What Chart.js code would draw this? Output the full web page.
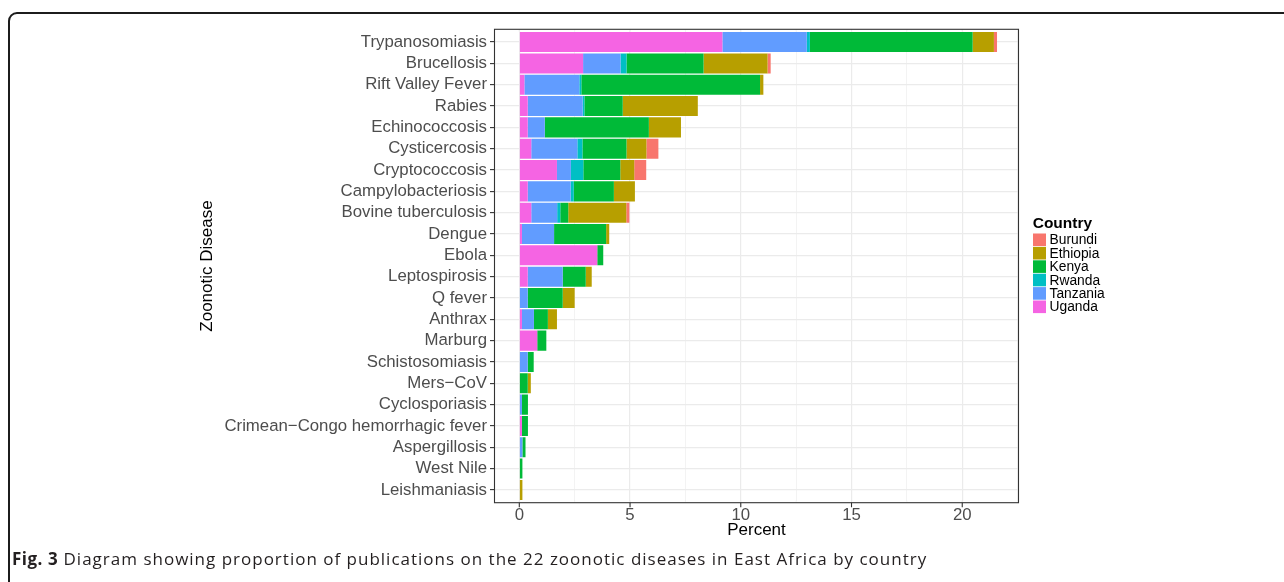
<!DOCTYPE html>
<html>
<head>
<meta charset="utf-8">
<script src="https://cdn.jsdelivr.net/npm/chart.js@4.4.0/dist/chart.umd.min.js"></script>
<style>
  html, body { margin: 0; padding: 0; background: #fff; }
  #wrap { position: relative; width: 1284px; height: 582px; overflow: hidden; }
  #frame {
    position: absolute; left: 8px; top: 12px; width: 1300px; height: 620px;
    border: 2px solid #1c1c1c; border-radius: 9px; box-sizing: border-box;
  }
  #chart { position: absolute; left: 0; top: 0; }
  #caption {
    position: absolute; left: 12px; top: 547px; white-space: nowrap;
    font-family: "Open Sans", sans-serif; font-size: 17px; letter-spacing: 1px; color: #231f20;
  }
  #caption b { font-weight: 700; letter-spacing: 0.5px; }
</style>
</head>
<body>
<div id="wrap">
  <div id="frame"></div>
  <canvas id="chart" width="1284" height="582"></canvas>
  <div id="caption"><b>Fig. 3</b> Diagram showing proportion of publications on the 22 zoonotic diseases in East Africa by country</div>
</div>
<script>
/* ---- data (percent of publications), top to bottom ---- */
const diseases = [
  'Trypanosomiasis', 'Brucellosis', 'Rift Valley Fever', 'Rabies', 'Echinococcosis',
  'Cysticercosis', 'Cryptococcosis', 'Campylobacteriosis', 'Bovine tuberculosis',
  'Dengue', 'Ebola', 'Leptospirosis', 'Q fever', 'Anthrax', 'Marburg',
  'Schistosomiasis', 'Mers\u2212CoV', 'Cyclosporiasis',
  'Crimean\u2212Congo hemorrhagic fever', 'Aspergillosis', 'West Nile', 'Leishmaniasis'
];
const uganda   = [9.17, 2.88, 0.23, 0.38, 0.38, 0.54, 1.70, 0.38, 0.54, 0.12, 3.52, 0.38, 0, 0.12, 0.81, 0, 0, 0, 0.12, 0, 0, 0];
const tanzania = [3.81, 1.69, 2.48, 2.48, 0.77, 2.08, 0.63, 1.94, 1.17, 1.45, 0, 1.58, 0.38, 0.54, 0, 0.38, 0, 0.12, 0, 0.14, 0, 0];
const rwanda   = [0.14, 0.27, 0.09, 0.08, 0, 0.23, 0.56, 0.14, 0.14, 0, 0, 0, 0, 0, 0, 0, 0, 0, 0, 0, 0, 0];
const kenya    = [7.35, 3.48, 8.07, 1.73, 4.70, 1.99, 1.67, 1.81, 0.36, 2.35, 0.27, 1.04, 1.58, 0.63, 0.41, 0.27, 0.38, 0.27, 0.27, 0.14, 0.14, 0];
const ethiopia = [0.96, 2.89, 0.15, 3.39, 1.45, 0.90, 0.63, 0.95, 2.62, 0.14, 0, 0.27, 0.54, 0.41, 0, 0, 0.14, 0, 0, 0, 0, 0.14];
const burundi  = [0.14, 0.14, 0, 0, 0, 0.54, 0.54, 0, 0.14, 0, 0, 0, 0, 0, 0, 0, 0, 0, 0, 0, 0, 0];

const countries = ['Uganda', 'Tanzania', 'Rwanda', 'Kenya', 'Ethiopia', 'Burundi'];
const series    = [uganda, tanzania, rwanda, kenya, ethiopia, burundi];
const colors    = ['#F564E3', '#619CFF', '#00BFC4', '#00BA38', '#B79F00', '#F8766D'];
const xMajor    = [0, 5, 10, 15, 20];

const FONT = "'Liberation Sans', Arial, Helvetica, sans-serif";
// ggplot panel box; the category area sits 0.1 row inside it (0.6 expansion vs 0.5 offset)
const PANEL = { left: 494.5, right: 1018.5, top: 29.3, bottom: 502.7 };
const ROW_INSET = (PANEL.bottom - PANEL.top) / 22.2 * 0.1;

const isMajor = v => xMajor.includes(v);

/* fill grid gaps between category area and panel edge */
const gridFill = {
  id: 'gridFill',
  beforeDatasetsDraw(chart) {
    const c = chart.ctx, a = chart.chartArea, x = chart.scales.x;
    c.save();
    c.strokeStyle = '#ebebeb';
    x.ticks.forEach(t => {
      const px = x.getPixelForValue(t.value);
      c.lineWidth = isMajor(t.value) ? 1.2 : 0.6;
      c.beginPath();
      c.moveTo(px, PANEL.top); c.lineTo(px, a.top);
      c.moveTo(px, a.bottom); c.lineTo(px, PANEL.bottom);
      c.stroke();
    });
    c.restore();
  }
};

/* panel border, x tick marks, axis titles, legend */
const decorations = {
  id: 'decorations',
  afterDraw(chart) {
    const c = chart.ctx, a = chart.chartArea, x = chart.scales.x;
    c.save();
    c.strokeStyle = '#333333';
    c.lineWidth = 1.1;
    c.strokeRect(PANEL.left, PANEL.top, PANEL.right - PANEL.left, PANEL.bottom - PANEL.top);
    c.beginPath();
    xMajor.forEach(v => {
      const px = x.getPixelForValue(v);
      c.moveTo(px, PANEL.bottom); c.lineTo(px, PANEL.bottom + 4.5);
    });
    c.stroke();

    c.fillStyle = '#000';
    c.font = `17px ${FONT}`;
    c.textAlign = 'center';
    c.textBaseline = 'middle';
    c.fillText('Percent', (PANEL.left + PANEL.right) / 2, 530.5);

    c.translate(207.5, (PANEL.top + PANEL.bottom) / 2);
    c.rotate(-Math.PI / 2);
    c.fillText('Zoonotic Disease', 0, 0);
    c.restore();

    // legend (reverse of stacking order, like ggplot)
    c.save();
    c.fillStyle = '#000';
    c.textAlign = 'left';
    c.textBaseline = 'alphabetic';
    c.font = `bold 15.5px ${FONT}`;
    c.fillText('Country', 1032.7, 227.5);
    const ds = chart.data.datasets.slice().reverse();
    c.font = `13.8px ${FONT}`;
    c.textBaseline = 'middle';
    ds.forEach((d, i) => {
      const y = 233.5 + i * 13.4;
      c.fillStyle = d.backgroundColor;
      c.fillRect(1033, y, 13, 12.6);
      c.fillStyle = '#000';
      c.fillText(d.label, 1049.5, y + 7);
    });
    c.restore();
  }
};

new Chart(document.getElementById('chart'), {
  type: 'bar',
  data: {
    labels: diseases,
    datasets: countries.map((name, i) => ({
      label: name,
      data: series[i],
      backgroundColor: colors[i],
      borderWidth: 0,
      barPercentage: 0.94,
      categoryPercentage: 1.0
    }))
  },
  options: {
    indexAxis: 'y',
    responsive: false,
    animation: false,
    devicePixelRatio: 1,
    layout: { padding: { left: 0, top: PANEL.top + ROW_INSET, right: 1284 - PANEL.right, bottom: 0 } },
    plugins: { legend: { display: false }, tooltip: { enabled: false } },
    scales: {
      x: {
        type: 'linear',
        stacked: true,
        min: -1.12,
        max: 22.54,
        afterFit: s => { s.height = 582 - (PANEL.bottom - ROW_INSET); },
        ticks: {
          stepSize: 2.5,
          includeBounds: false,
          autoSkip: false,
          maxRotation: 0,
          padding: 4.6,
          color: '#4d4d4d',
          font: { family: FONT, size: 16.8 },
          callback: v => (isMajor(v) ? String(v) : '')
        },
        grid: {
          color: '#ebebeb',
          lineWidth: ctx => (ctx.tick && isMajor(ctx.tick.value) ? 1.2 : 0.6),
          drawTicks: false
        },
        border: { display: false }
      },
      y: {
        type: 'category',
        stacked: true,
        afterFit: s => { s.width = PANEL.left; },
        ticks: {
          autoSkip: false,
          padding: 3,
          color: '#4d4d4d',
          font: { family: FONT, size: 16.8 }
        },
        grid: {
          offset: false,
          color: '#ebebeb',
          lineWidth: 1.2,
          tickColor: '#333333',
          tickLength: 4.5,
          tickWidth: 1.1
        },
        border: { display: false }
      }
    }
  },
  plugins: [gridFill, decorations]
});
</script>
</body>
</html>
